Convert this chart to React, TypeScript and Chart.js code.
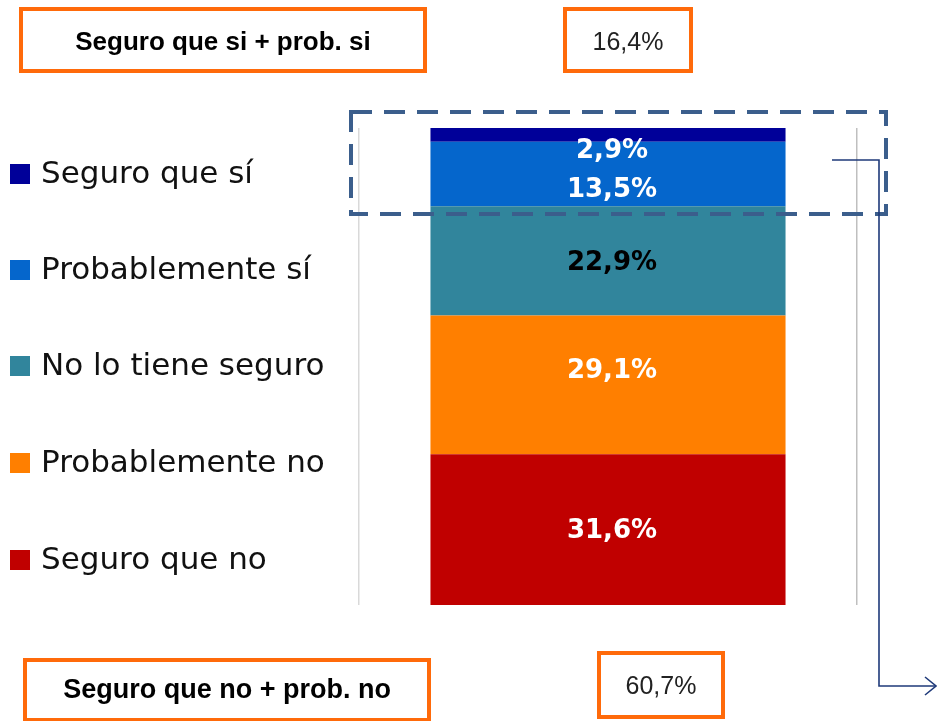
import React, { useEffect, useRef } from "react";
import { Chart, registerables } from "chart.js";

Chart.register(...registerables);

// ---- data ----
const categories = ["Total"];
const seriesLabels = [
  "Seguro que no",
  "Probablemente no",
  "No lo tiene seguro",
  "Probablemente sí",
  "Seguro que sí",
];
const seriesValues = [31.6, 29.1, 22.9, 13.5, 2.9];
const seriesColors = ["#C00000", "#FF7F00", "#31859C", "#0566CC", "#000099"];
const labelColors = ["#FFFFFF", "#FFFFFF", "#000000", "#FFFFFF", "#FFFFFF"];
const topSummaryLabel = "Seguro que si + prob. si";
const topSummaryValue = "16,4%";
const bottomSummaryLabel = "Seguro que no + prob. no";
const bottomSummaryValue = "60,7%";

const fmt = (v: number) => v.toFixed(1).replace(".", ",") + "%";

// label vertical nudges (px), per dataset
const labelNudge = [2, -14, 2, 16, 16];

const overlayPlugin = {
  id: "overlay",
  afterDatasetsDraw(chart: any) {
    const ctx = chart.ctx as CanvasRenderingContext2D;
    ctx.save();
    chart.data.datasets.forEach((ds: any, i: number) => {
      const meta = chart.getDatasetMeta(i);
      meta.data.forEach((el: any, j: number) => {
        const v = ds.data[j];
        const cy = (el.y + el.base) / 2 + labelNudge[i];
        ctx.font = "bold 26px 'DejaVu Sans'";
        ctx.fillStyle = labelColors[i];
        ctx.textAlign = "center";
        ctx.textBaseline = "middle";
        ctx.fillText(fmt(v), el.x + 4, cy);
      });
    });
    ctx.restore();
  },
  afterDraw(chart: any) {
    const ctx = chart.ctx as CanvasRenderingContext2D;
    ctx.save();

    const orange = "#FF6A0A";
    const box = (x: number, y: number, w: number, h: number) => {
      ctx.strokeStyle = orange;
      ctx.lineWidth = 4;
      ctx.setLineDash([]);
      ctx.strokeRect(x, y, w, h);
    };
    box(21, 9, 404, 62);
    box(565, 9, 126, 62);
    box(25, 660, 404, 60);
    box(599, 653, 124, 64);

    ctx.fillStyle = "#000";
    ctx.textAlign = "center";
    ctx.textBaseline = "middle";
    ctx.font = "bold 26px 'Liberation Sans'";
    ctx.fillText(topSummaryLabel, 223, 43);
    ctx.font = "bold 27px 'Liberation Sans'";
    ctx.fillText(bottomSummaryLabel, 227, 691);
    ctx.font = "25px 'Liberation Sans'";
    ctx.fillStyle = "#222";
    ctx.fillText(topSummaryValue, 628, 43);
    ctx.fillText(bottomSummaryValue, 661, 687);

    // legend (top to bottom = reversed stack order)
    const legendY = [174, 270, 366, 463, 560];
    ctx.textAlign = "left";
    ctx.font = "31px 'DejaVu Sans'";
    for (let k = 0; k < seriesLabels.length; k++) {
      const idx = seriesLabels.length - 1 - k;
      const y = legendY[k];
      ctx.fillStyle = seriesColors[idx];
      ctx.fillRect(10, y - 10, 20, 20);
      ctx.fillStyle = "#111";
      ctx.fillText(seriesLabels[idx], 41, y + 1);
    }

    // dashed rectangle
    ctx.strokeStyle = "#3B5E8C";
    ctx.lineWidth = 4;
    ctx.setLineDash([21, 12]);
    ctx.strokeRect(351, 112, 535, 102);

    // arrow connector
    ctx.setLineDash([]);
    ctx.strokeStyle = "#1F3A7A";
    ctx.lineWidth = 1.6;
    ctx.beginPath();
    ctx.moveTo(832, 160);
    ctx.lineTo(879, 160);
    ctx.lineTo(879, 686);
    ctx.lineTo(935, 686);
    ctx.stroke();
    ctx.beginPath();
    ctx.moveTo(925, 677);
    ctx.lineTo(936, 686);
    ctx.lineTo(925, 695);
    ctx.stroke();

    ctx.restore();
  },
};

export default function App() {
  const ref = useRef<HTMLCanvasElement | null>(null);
  useEffect(() => {
    if (!ref.current) return;
    const chart = new Chart(ref.current, {
      type: "bar",
      data: {
        labels: categories,
        datasets: seriesLabels.map((l, i) => ({
          label: l,
          data: [seriesValues[i]],
          backgroundColor: seriesColors[i],
          borderWidth: 0,
          barPercentage: 0.713,
          categoryPercentage: 1,
        })),
      },
      options: {
        animation: false,
        responsive: false,
        maintainAspectRatio: false,
        layout: { padding: { left: 359, right: 80, top: 128, bottom: 116 } },
        plugins: { legend: { display: false }, tooltip: { enabled: false } },
        scales: {
          x: {
            stacked: true,
            offset: true,
            ticks: { display: false },
            border: { display: false },
            grid: {
              offset: true,
              drawTicks: false,
              lineWidth: 1.5,
              color: (c: any) => (c.index === 0 ? "#D9D9D9" : "#BFBFBF"),
            },
          },
          y: {
            stacked: true,
            display: false,
            min: 0,
            max: 100,
          },
        },
      },
      plugins: [overlayPlugin],
    });
    return () => chart.destroy();
  }, []);
  return (
    <div style={{ position: "absolute", left: 0, top: 0, width: 937, height: 721, background: "#fff" }}>
      <canvas ref={ref} width={937} height={721} />
    </div>
  );
}
